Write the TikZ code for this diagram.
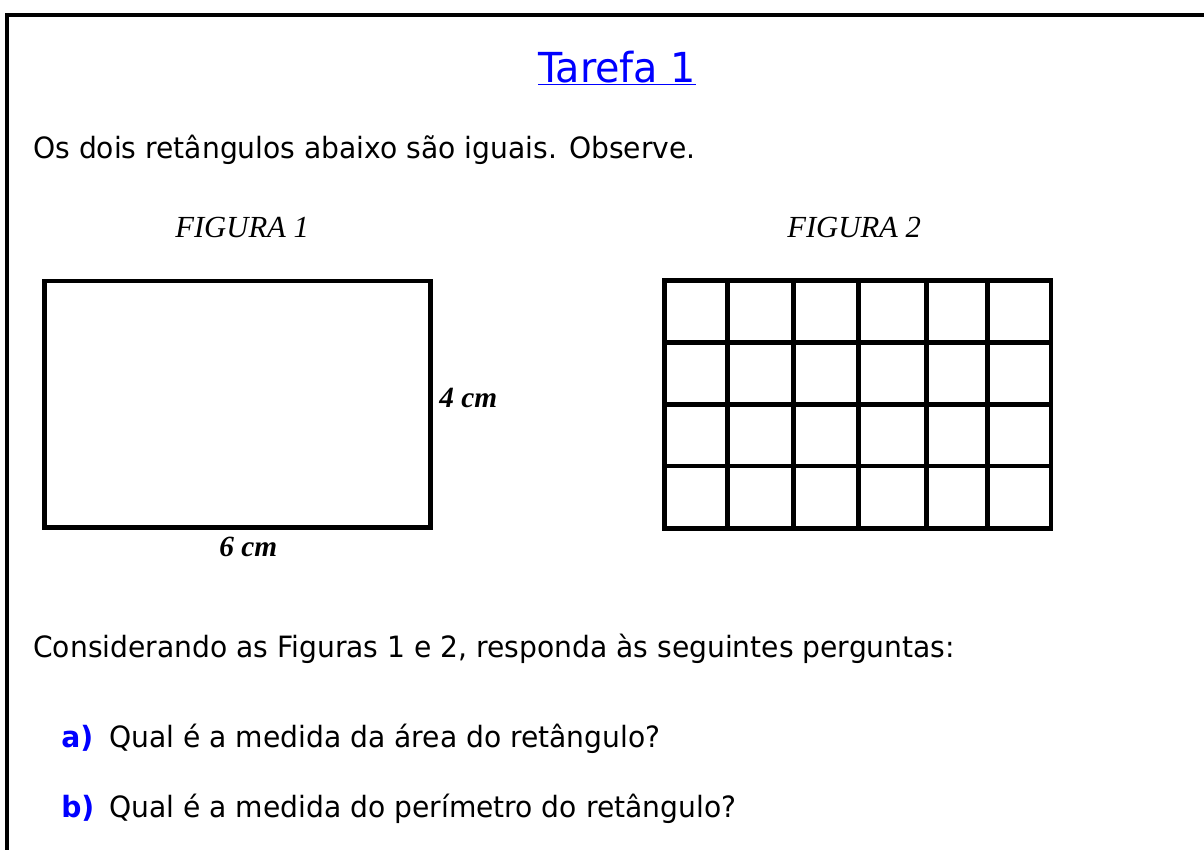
\documentclass[tikz,border=0pt]{standalone}
\usepackage{fontspec}
\setmainfont{DejaVu Sans}[FakeStretch=0.96]
\newfontfamily\timesFont{Liberation Serif}
\usetikzlibrary{positioning}
\definecolor{taskBlue}{RGB}{0,0,255}
\tikzstyle{sheet} = [x = .75pt, y = -.75pt]
\tikzstyle{frameLine} = [line width = 3pt]
\tikzstyle{figureLine} = [line width = 3.3pt]
\tikzstyle{bodyText} = [font=\fontsize{22}{26}\selectfont, anchor=base west, inner sep=0pt]
\tikzstyle{titleText} = [font=\fontsize{31}{38}\selectfont, text=taskBlue, anchor=base, inner sep=0pt]
\tikzstyle{itemMark} = [bodyText, font=\fontsize{22}{26}\selectfont\bfseries, text=taskBlue]
\tikzstyle{captionText} = [font=\timesFont\itshape\fontsize{23}{28}\selectfont, anchor=base west, inner sep=0pt]
\tikzstyle{measureText} = [font=\timesFont\bfseries\itshape\fontsize{22}{26}\selectfont, anchor=base west, inner sep=0pt]
\newcommand{\gridColumns}{727.3,793.3,858.3,926.3,987.3}
\newcommand{\gridRows}{342.3,404.3,466}
\newcommand{\verticalFigureLine}[1]{\draw [figureLine] (#1, 280.5) -- (#1, 528.3);}
\newcommand{\horizontalFigureLine}[1]{\draw [figureLine] (664.5, #1) -- (1051, #1);}

\begin{document}
\begin{tikzpicture}[sheet]
  \useasboundingbox (0,0) rectangle (1204,850);
  \draw [frameLine] (7,850) |- (1204,15);

  \node [titleText] (title) at (617,82) {\underline{Tarefa 1}};
  \node [bodyText] (intro) at (33,158) {Os dois retângulos abaixo são iguais. Observe.};

  \node [captionText] (captionOne) at (175,237) {FIGURA 1};
  \node [captionText] (captionTwo) at (787,237) {FIGURA 2};

  % figura 1
  \draw [figureLine] (44.5,281) rectangle (430.5,527.5);
  \node [measureText] (height) at (439,407) {4 cm};
  \node [measureText] (width) at (219,556) {6 cm};

  % figura 2
  \draw [figureLine] (664.5,280.5) rectangle (1051,528.3);
  \foreach \xLine in \gridColumns {
    \verticalFigureLine{\xLine}
  }
  \foreach \yLine in \gridRows {
    \horizontalFigureLine{\yLine}
  }

  \node [bodyText] (question) at (33,657) {Considerando as Figuras 1 e 2, responda às seguintes perguntas:};
  \node [itemMark] (markA) at (61,747) {a)};
  \node [bodyText] (itemA) at (109,747) {Qual é a medida da área do retângulo?};
  \node [itemMark] (markB) at (61,817) {b)};
  \node [bodyText] (itemB) at (109,817) {Qual é a medida do perímetro do retângulo?};
\end{tikzpicture}
\end{document}
